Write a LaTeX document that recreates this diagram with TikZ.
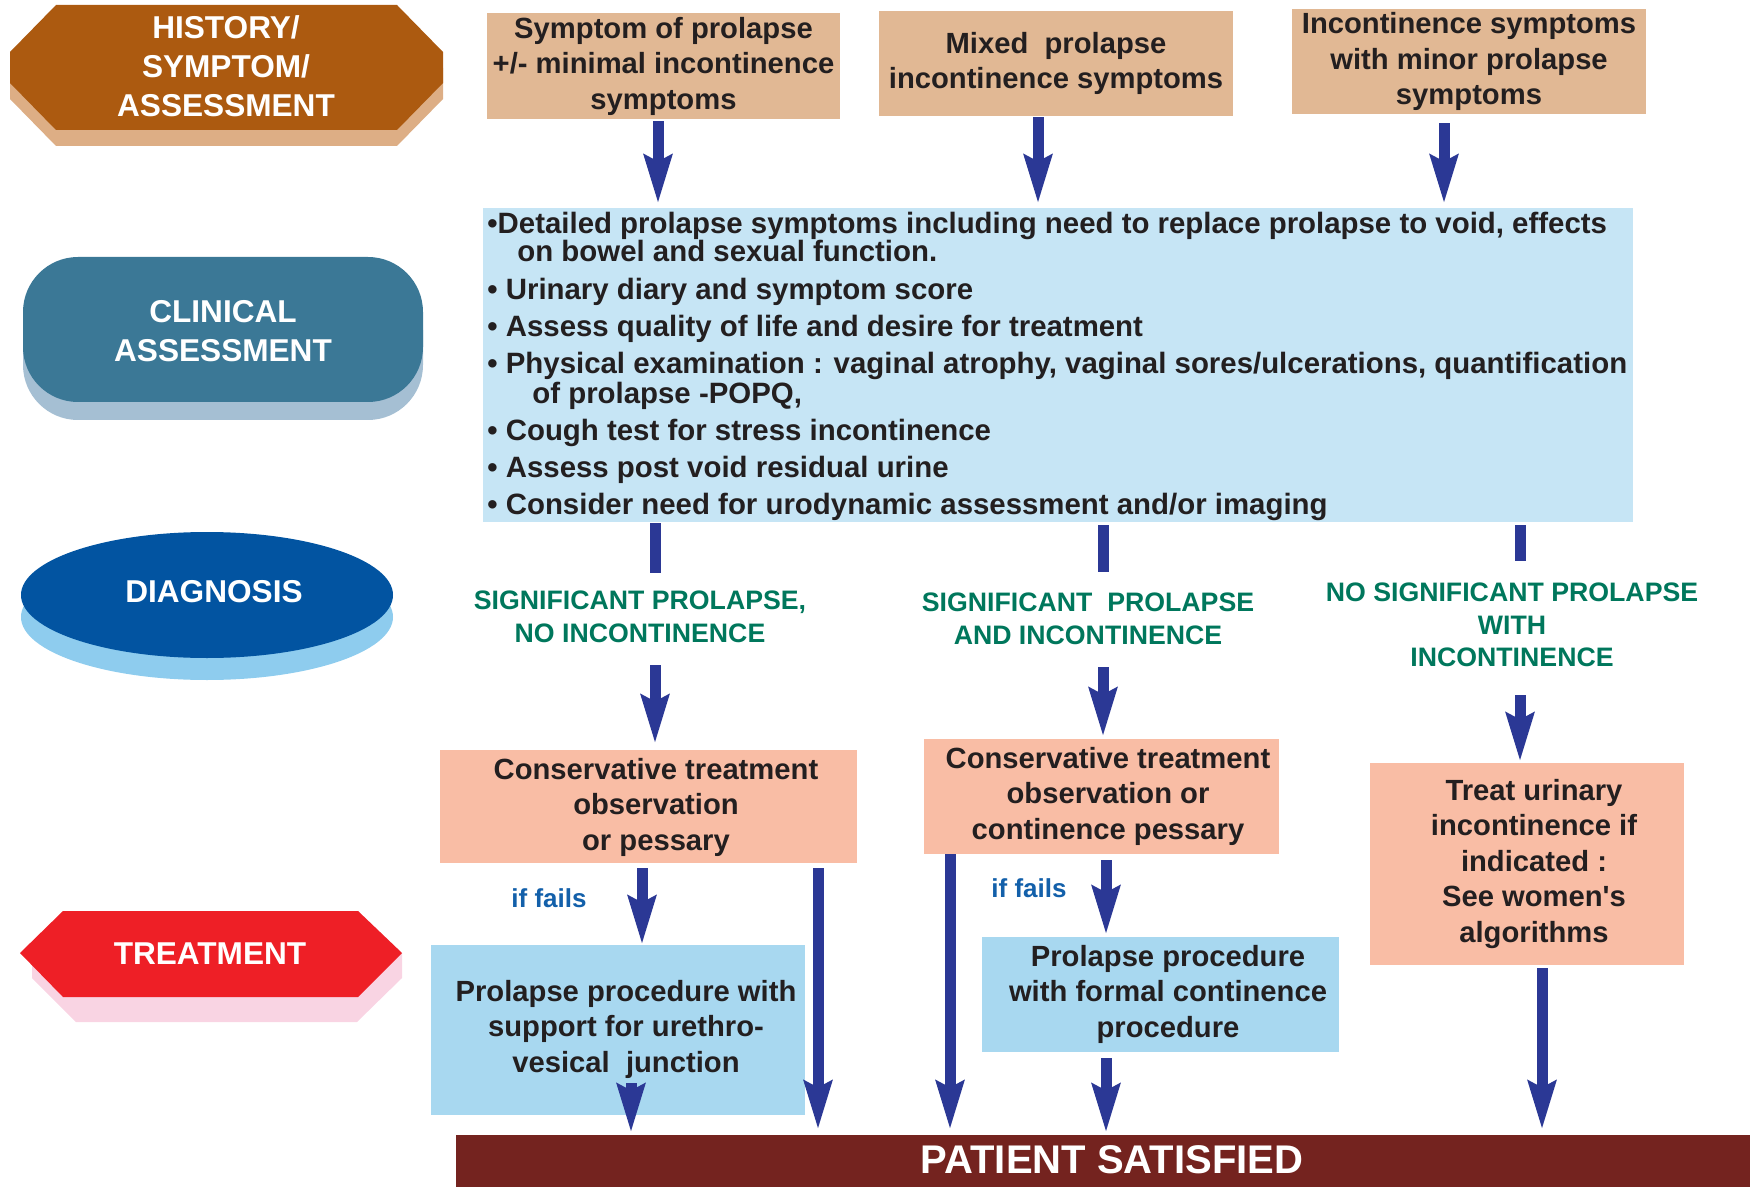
\documentclass[tikz,border=0pt]{standalone}
\usepackage{fontspec}
\setmainfont{Liberation Sans}
\usetikzlibrary{arrows.meta,shapes.geometric,calc}
\definecolor{tanc}{HTML}{E1B894}
\definecolor{bigblue}{HTML}{C6E5F5}
\definecolor{salmonc}{HTML}{F9BDA5}
\definecolor{procc}{HTML}{A8D8F0}
\definecolor{arrowc}{HTML}{2B3895}
\definecolor{greenc}{HTML}{00775C}
\definecolor{ifblue}{HTML}{1360AA}
\definecolor{barc}{HTML}{74231F}
\definecolor{ink}{HTML}{231F20}
\definecolor{histc}{HTML}{AC5A10}
\definecolor{histsh}{HTML}{DDAE85}
\definecolor{clinc}{HTML}{3B7896}
\definecolor{clinsh}{HTML}{A5BFD3}
\definecolor{diagc}{HTML}{0254A1}
\definecolor{diagsh}{HTML}{8ECCEE}
\definecolor{treatc}{HTML}{EE1F26}
\definecolor{treatsh}{HTML}{F9D4E3}
\tikzset{
  lbl/.style={font=\bfseries\fontsize{15.8}{19.5}\selectfont, text=white, align=center, inner sep=0pt},
  btxt/.style={font=\bfseries\fontsize{14.6}{17.75}\selectfont, text=ink, align=center, inner sep=0pt},
  topbox/.style={btxt, fill=tanc},
  pinkbox/.style={fill=salmonc, inner sep=0pt},
  procbox/.style={fill=procc, inner sep=0pt},
  itemline/.style={font=\bfseries\fontsize{14.7}{16}\selectfont, text=ink, anchor=base west, inner sep=0pt},
  diaglbl/.style={font=\bfseries\fontsize{13.35}{16.25}\selectfont, text=greenc, align=center, inner sep=0pt},
  failtxt/.style={font=\bfseries\fontsize{13}{15}\selectfont, text=ifblue, inner sep=0pt},
  arr/.style={draw=arrowc, line width=5.5pt, -{Stealth[length=24pt,width=13.5pt,inset=3pt]}},
  stub/.style={draw=arrowc, line width=5.5pt},
}
\begin{document}
\begin{tikzpicture}[x=0.5pt,y=-0.5pt]
\useasboundingbox (0,0) rectangle (1750,1187);

% ---- left stage labels ----
\fill[histsh] (10,68)--(56,21)--(397,21)--(443,68)--(443,99)--(397,146)--(56,146)--(10,99)--cycle;
\fill[histc] (10,52)--(56,5)--(397,5)--(443,52)--(443,83)--(397,130)--(56,130)--(10,83)--cycle;
\node[lbl] (hist) at (226,66) {HISTORY/\\SYMPTOM/\\ASSESSMENT};

\fill[clinsh, rounded corners=27.5pt] (23,275) rectangle (423,420);
\fill[clinc, rounded corners=27.5pt] (23,257) rectangle (423,402);
\node[lbl] (clin) at (223,331) {CLINICAL\\ASSESSMENT};

\fill[diagsh] (207,617) ellipse [x radius=186, y radius=63];
\fill[diagc] (207,595) ellipse [x radius=186, y radius=63];
\node[lbl] (diag) at (214,592) {DIAGNOSIS};

\fill[treatsh] (32,965)--(32,978)--(76,1022)--(357,1022)--(402,978)--(402,953)--(358,911)--(63,911)--cycle;
\fill[treatc] (20,953)--(63,911)--(358,911)--(402,953)--(358,997)--(63,997)--cycle;
\node[lbl] (treat) at (210,954) {TREATMENT};

% ---- top boxes ----
\node[topbox, minimum width=176.5pt, minimum height=53pt] (t1) at (663.5,66) {Symptom of prolapse\\+/- minimal incontinence\\symptoms};
\node[topbox, minimum width=177pt, minimum height=52.5pt] (t2) at (1056,63.5) {Mixed\ \ prolapse\\incontinence symptoms};
\node[topbox, minimum width=177pt, minimum height=52.5pt] (t3) at (1469,61.5) {Incontinence symptoms\\with minor prolapse\\symptoms};

% ---- clinical assessment box ----
\node[fill=bigblue, minimum width=575pt, minimum height=157pt, inner sep=0pt] (big) at (1058,365) {};
\node[itemline] (l1) at (487,234) {•Detailed prolapse symptoms including need to replace prolapse to void, effects};
\node[itemline] (l2) at (517,262) {on bowel and sexual function.};
\node[itemline] (l3) at (487,300) {• Urinary diary and symptom score};
\node[itemline] (l4) at (487,337) {• Assess quality of life and desire for treatment};
\node[itemline] (l5) at (487,374) {• Physical examination : vaginal atrophy, vaginal sores/ulcerations, quantification};
\node[itemline] (l6) at (532,403) {of prolapse -POPQ,};
\node[itemline] (l7) at (487,440) {• Cough test for stress incontinence};
\node[itemline] (l8) at (487,477) {• Assess post void residual urine};
\node[itemline] (l9) at (487,514) {• Consider need for urodynamic assessment and/or imaging};

% ---- diagnosis labels ----
\node[diaglbl] (g1) at (640,617) {SIGNIFICANT PROLAPSE,\\NO INCONTINENCE};
\node[diaglbl] (g2) at (1088,619) {SIGNIFICANT\ \ PROLAPSE\\AND INCONTINENCE};
\node[diaglbl] (g3) at (1512,625) {NO SIGNIFICANT PROLAPSE\\WITH\\INCONTINENCE};

% ---- treatment boxes ----
\node[pinkbox, minimum width=208.5pt, minimum height=56.5pt] (A) at (648.5,806.5) {};
\node[btxt] (At) at (656,807) {Conservative treatment\\observation\\or pessary};
\node[pinkbox, minimum width=177.5pt, minimum height=57.5pt] (B) at (1101.5,796.5) {};
\node[btxt] (Bt) at (1108,796) {Conservative treatment\\observation or\\continence pessary};
\node[pinkbox, minimum width=157pt, minimum height=101pt] (C) at (1526.5,864) {};
\node[btxt] (Ct) at (1534,864) {Treat urinary\\incontinence if\\indicated :\\See women\textquotesingle s\\algorithms};
\node[procbox, minimum width=187pt, minimum height=85pt] (D) at (618,1030) {};
\node[btxt] (Dt) at (626,1029) {Prolapse procedure with\\support for urethro-\\vesical\ \ junction};
\node[procbox, minimum width=178.5pt, minimum height=57.5pt] (E) at (1160.5,994.5) {};
\node[btxt] (Et) at (1168,994) {Prolapse procedure\\with formal continence\\procedure};

\node[failtxt] (f1) at (549,898) {if fails};
\node[failtxt] (f2) at (1029,888) {if fails};

\node[fill=barc, minimum width=647pt, minimum height=26pt, inner sep=0pt] (bar) at (1103,1161) {};
\node[text=white, inner sep=0pt, font=\bfseries\fontsize{20}{22}\selectfont] (bart) at (1112,1160) {PATIENT SATISFIED};

% ---- connectors ----
\draw[arr, shorten <=1pt, shorten >=2pt] (t1.south -| 658,0) -- (658,0 |- big.north);
\draw[arr, shorten <=0.5pt, shorten >=2pt] (t2.south -| 1038,0) -- (1038,0 |- big.north);
\draw[arr, shorten <=4.5pt, shorten >=2pt] (t3.south -| 1444,0) -- (1444,0 |- big.north);

\draw[stub] (big.south -| 655,0) ++(0,1) -- ++(0,50);
\draw[stub] (big.south -| 1103,0) ++(0,3) -- ++(0,47);
\draw[stub] (big.south -| 1520,0) ++(0,3) -- ++(0,36);

\draw[arr, shorten <=11pt, shorten >=3pt] (g1.south -| 655,0) -- (655,0 |- A.north);
\draw[arr, shorten <=11pt, shorten >=1pt] (g2.south -| 1103,0) -- (1103,0 |- B.north);
\draw[arr, shorten <=14pt, shorten >=0.5pt] (g3.south -| 1520,0) -- (1520,0 |- C.north);

\draw[arr, shorten <=2.5pt] (A.south -| 642,0) -- (642,0 |- D.north);
\draw[arr, shorten <=2.5pt, shorten >=2.5pt] (A.south -| 818,0) -- (818,0 |- bar.north);
\draw[arr, shorten >=1pt] ($(D.south -| 631,0)+(0,-32)$) -- (631,0 |- bar.north);
\draw[arr, shorten >=2.5pt] (B.south -| 950,0) -- (950,0 |- bar.north);
\draw[arr, shorten <=3pt, shorten >=1pt] (B.south -| 1106,0) -- (1106,0 |- E.north);
\draw[arr, shorten <=3pt, shorten >=1pt] (E.south -| 1106,0) -- (1106,0 |- bar.north);
\draw[arr, shorten <=1.5pt, shorten >=2.5pt] (C.south -| 1542,0) -- (1542,0 |- bar.north);
\end{tikzpicture}
\end{document}
